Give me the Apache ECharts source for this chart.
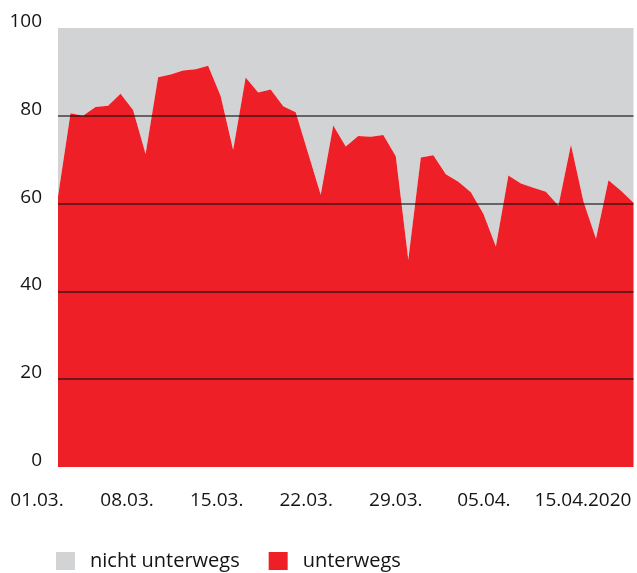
<!DOCTYPE html>
<html>
<head>
<meta charset="utf-8">
<script src="https://cdn.jsdelivr.net/npm/echarts@6/dist/echarts.min.js"></script>
<style>
  html, body { margin: 0; padding: 0; background: #fff; }
  #chart { width: 637px; height: 573px; }
</style>
</head>
<body>
<div id="chart"></div>
<script>
// Days from 1 March to 16 April 2020
const days = [
  '01.03.', '02.03.', '03.03.', '04.03.', '05.03.', '06.03.', '07.03.', '08.03.',
  '09.03.', '10.03.', '11.03.', '12.03.', '13.03.', '14.03.', '15.03.', '16.03.',
  '17.03.', '18.03.', '19.03.', '20.03.', '21.03.', '22.03.', '23.03.', '24.03.',
  '25.03.', '26.03.', '27.03.', '28.03.', '29.03.', '30.03.', '31.03.', '01.04.',
  '02.04.', '03.04.', '04.04.', '05.04.', '06.04.', '07.04.', '08.04.', '09.04.',
  '10.04.', '11.04.', '12.04.', '13.04.', '14.04.', '15.04.', '16.04.'
];

// Share of people on the move (percent)
const unterwegs = [
  61.6, 80.6, 80.0, 82.0, 82.3, 85.0, 81.3, 71.3, 88.8, 89.4,
  90.3, 90.6, 91.4, 84.5, 72.2, 88.7, 85.3, 86.0, 82.2, 80.8,
  71.4, 62.0, 77.8, 73.0, 75.4, 75.2, 75.6, 70.8, 47.2, 70.5,
  71.0, 66.7, 65.0, 62.6, 57.7, 50.2, 66.4, 64.6, 63.6, 62.7,
  59.5, 73.4, 60.5, 52.0, 65.3, 62.9, 60.2
];

// The remainder of each day's 100 %
const nichtUnterwegs = unterwegs.map(v => +(100 - v).toFixed(1));

// Labelled days on the x axis and the text shown for them
const tickDays = ['01.03.', '08.03.', '15.03.', '22.03.', '29.03.', '05.04.', '15.04.'];
const tickLabels = ['01.03.', '08.03.', '15.03.', '22.03.', '29.03.', '05.04.', '15.04.2020'];

// y axis
const yTicks = [0, 20, 40, 60, 80, 100];

const seriesNames = ['nicht unterwegs', 'unterwegs'];

// ---- styling ----
const RED = '#ee1f26';
const GREY = '#d1d3d4';
const TEXT = '#141414';
const FONT = '"Open Sans", "Noto Sans", sans-serif';
// extra right padding per x label, moving each label a little to the left
const labelPadRight = [42, 37, 33, 29, 25, 24, 76];

const rich = {};
tickLabels.forEach((t, i) => {
  rich['t' + i] = {
    fontFamily: FONT, fontSize: 19, color: TEXT,
    padding: [0, labelPadRight[i], 0, 0]
  };
});

const chart = echarts.init(document.getElementById('chart'), null, { renderer: 'canvas' });

chart.setOption({
  animation: false,
  backgroundColor: '#fff',
  textStyle: { fontFamily: FONT },
  grid: { left: 58, right: 3.5, top: 28, bottom: 106, containLabel: false },
  legend: {
    data: seriesNames,
    left: 51,
    top: 546,
    icon: 'rect',
    itemWidth: 19,
    itemHeight: 18,
    itemGap: 29,
    textStyle: { fontFamily: FONT, fontSize: 20, color: TEXT, padding: [0, 0, 0, 10] }
  },
  xAxis: {
    type: 'category',
    data: days,
    boundaryGap: false,
    axisLine: { show: false },
    axisTick: { show: false },
    splitLine: { show: false },
    axisLabel: {
      interval: (idx, val) => tickDays.indexOf(val) >= 0,
      margin: 24,
      formatter: (val) => {
        const i = tickDays.indexOf(val);
        return i >= 0 ? '{t' + i + '|' + tickLabels[i] + '}' : '';
      },
      rich: rich
    }
  },
  yAxis: {
    type: 'value',
    min: yTicks[0],
    max: yTicks[yTicks.length - 1],
    interval: 20,
    z: 5,
    axisLine: { show: false },
    axisTick: { show: false },
    axisLabel: {
      margin: 16,
      fontFamily: FONT,
      fontSize: 19,
      color: TEXT,
      verticalAlign: 'bottom',
      lineHeight: 13
    },
    splitLine: {
      show: true,
      showMinLine: false,
      showMaxLine: false,
      lineStyle: { color: 'rgba(15,15,15,0.75)', width: 1.5 }
    }
  },
  series: [
    {
      name: 'unterwegs',
      type: 'line',
      stack: 'total',
      data: unterwegs,
      symbol: 'none',
      lineStyle: { width: 0 },
      itemStyle: { color: RED },
      areaStyle: { color: RED, opacity: 1 },
      z: 2
    },
    {
      name: 'nicht unterwegs',
      type: 'line',
      stack: 'total',
      data: nichtUnterwegs,
      symbol: 'none',
      lineStyle: { width: 0 },
      itemStyle: { color: GREY },
      areaStyle: { color: GREY, opacity: 1 },
      z: 1
    }
  ]
});
</script>
</body>
</html>
